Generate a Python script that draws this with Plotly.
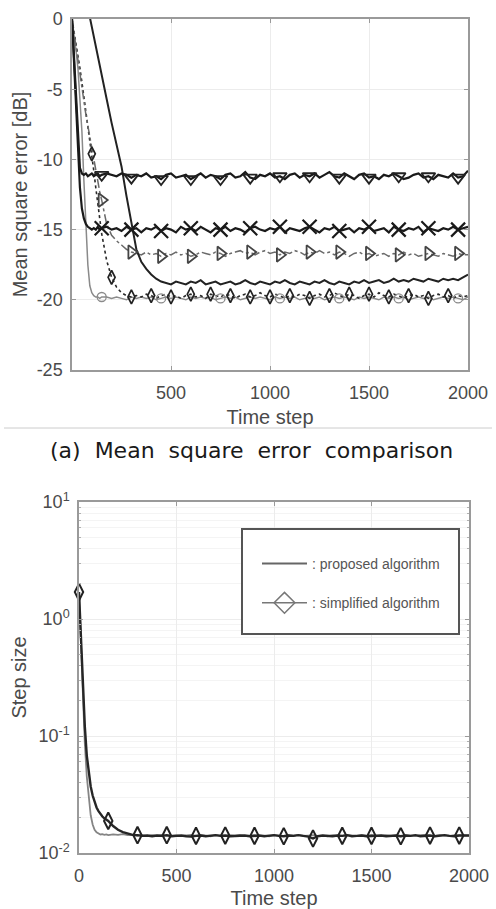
import plotly.graph_objects as go

W, H = 496, 909

# ---------------- data ----------------
# common time grid (time steps)
TIME = list(range(0, 151, 10)) + list(range(175, 2001, 25))

# (a) mean square error curves [dB]
MSE_TRI_DOWN = [0.0, -2.7, -5.4, -8.1, -10.6, -11.0, -11.1, -11.0, -11.2, -11.1, -11.0, -11.2, -11.1, -11.0, -11.2, -11.1,
    -11.0, -11.1, -11.2, -11.0, -11.1, -11.3, -11.1, -11.2, -11.0, -11.3,
    -11.2, -11.4, -11.1, -11.0, -11.3, -11.2, -11.1, -11.4, -11.2, -11.0,
    -11.3, -11.1, -11.2, -11.4, -11.1, -11.0, -11.3, -11.2, -10.9, -11.3,
    -11.4, -11.1, -11.2, -11.0, -11.3, -11.2, -11.4, -11.1, -11.0, -11.3,
    -11.1, -11.2, -11.0, -11.3, -11.1, -10.9, -11.2, -11.3, -11.0, -11.2,
    -11.4, -11.1, -11.0, -11.3, -11.2, -11.4, -11.1, -11.2, -11.0, -11.2,
    -11.4, -11.3, -11.1, -11.0, -11.3, -11.2, -11.4, -11.1, -11.2, -11.3,
    -11.0, -11.3, -11.2, -10.8]

MSE_CROSS = [0.0, -3.2, -6.5, -9.6, -12.0, -13.5, -14.2, -14.6, -14.8, -14.9, -15.0, -14.9, -15.0, -14.8, -15.0, -14.9,
    -14.8, -15.0, -14.9, -15.1, -14.8, -15.0, -14.9, -15.2, -14.9, -15.0,
    -14.8, -15.1, -14.9, -15.0, -15.2, -14.8, -15.0, -14.9, -15.1, -14.8,
    -15.0, -15.2, -14.9, -15.0, -14.8, -15.1, -14.9, -15.0, -15.2, -14.9,
    -14.8, -15.0, -15.1, -14.9, -15.0, -14.8, -15.2, -14.9, -15.0, -15.1,
    -14.9, -14.8, -15.0, -15.2, -14.9, -15.0, -14.8, -15.1, -15.0, -14.9,
    -15.2, -14.9, -15.0, -14.8, -15.1, -15.0, -14.9, -15.2, -14.8, -15.0,
    -15.1, -14.9, -15.0, -14.8, -15.2, -14.9, -15.0, -15.1, -14.9, -15.0,
    -14.8, -15.0, -14.9, -14.8]

MSE_TRI_RIGHT = [0.0, -1.0, -2.0, -3.0, -4.0, -5.0, -5.9, -6.8, -7.6, -8.4, -9.3, -10.1, -10.9, -11.6, -12.3, -12.9,
    -14.6, -15.4, -15.8, -16.1, -16.4, -16.6,
    -16.7, -16.8, -16.6, -16.8, -16.7, -16.9, -16.7, -16.8, -16.6, -16.8,
    -16.7, -16.9, -16.8, -16.6, -16.7, -16.8, -16.6, -16.7, -16.9, -16.7,
    -16.6, -16.5, -16.7, -16.6, -16.8, -16.6, -16.5, -16.7, -16.6, -16.8,
    -16.6, -16.7, -16.5, -16.6, -16.8, -16.6, -16.7, -16.5, -16.7, -16.6,
    -16.8, -16.6, -16.7, -16.9, -16.7, -16.6, -16.8, -16.7, -16.9, -16.8,
    -16.7, -16.9, -16.7, -16.8, -16.6, -16.8, -16.7, -16.9, -16.8, -16.7,
    -16.8, -16.9, -16.7, -16.8, -16.9, -16.7, -16.8, -16.8]

MSE_DELAYED = [6.3, 5.6, 4.9, 4.2, 3.5, 2.8, 2.1, 1.4, 0.7, 0.0, -0.7, -1.4, -2.1, -2.8, -3.5, -4.1,
    -5.7, -7.4, -8.9, -10.5, -12.6, -14.6, -16.4, -17.3, -17.8, -18.2, -18.5, -18.7, -18.8,
    -18.9, -18.7, -18.8, -18.9, -18.7, -18.8, -18.6, -18.9, -18.8, -18.7,
    -18.9, -18.8, -18.7, -18.9, -18.8, -18.6, -18.8, -18.9, -18.7, -18.8,
    -18.9, -18.7, -18.8, -18.6, -18.8, -18.9, -18.7, -18.8, -18.9, -18.7,
    -18.8, -18.6, -18.8, -18.9, -18.7, -18.8, -18.9, -18.7, -18.8, -18.6,
    -18.8, -18.7, -18.6, -18.8, -18.7, -18.5, -18.7, -18.6, -18.7, -18.5,
    -18.6, -18.7, -18.5, -18.6, -18.7, -18.5, -18.6, -18.5, -18.6, -18.4,
    -18.2]

MSE_DIAMOND = [0.0, -0.8, -1.6, -2.5, -3.5, -4.5, -5.5, -6.5, -7.6, -8.7, -9.6, -10.8, -12.0, -13.2, -14.3, -15.3,
    -17.2, -18.4, -19.1, -19.5, -19.7, -19.8,
    -19.7, -19.8, -19.6, -19.7, -19.9, -19.7, -19.6, -19.8, -19.7, -19.9,
    -19.7, -19.6, -19.8, -19.7, -19.9, -19.6, -19.7, -19.8, -19.6, -19.7,
    -19.9, -19.7, -19.6, -19.8, -19.7, -19.5, -19.7, -19.8, -19.6, -19.7,
    -19.9, -19.7, -19.8, -19.6, -19.7, -19.9, -19.7, -19.6, -19.8, -19.7,
    -19.5, -19.7, -19.8, -19.6, -19.7, -19.9, -19.7, -19.6, -19.8, -19.5,
    -19.7, -19.8, -19.6, -19.7, -19.9, -19.7, -19.6, -19.8, -19.7, -19.9,
    -19.7, -19.6, -19.8, -19.7, -19.9, -19.7, -19.8, -19.7]

MSE_CIRCLE = [0.0, -1.0, -2.2, -3.5, -5.5, -8.0, -11.5, -15.0, -17.5, -19.0, -19.5, -19.7, -19.8, -19.8, -19.9, -19.8,
    -19.8, -19.9, -19.8, -19.9, -20.0, -19.8, -19.9, -19.8, -19.9, -19.8,
    -20.0, -19.9, -19.8, -19.9, -19.8, -19.9, -20.0, -19.8, -19.9, -19.8,
    -19.9, -19.8, -20.0, -19.9, -19.8, -19.9, -19.8, -20.0, -19.9, -19.8,
    -19.9, -19.8, -19.9, -20.0, -19.8, -19.9, -19.8, -19.9, -19.8, -20.0,
    -19.9, -19.8, -19.9, -19.8, -20.0, -19.9, -19.8, -19.9, -19.8, -19.9,
    -20.0, -19.8, -19.9, -19.8, -19.9, -20.0, -19.8, -19.9, -19.8, -19.9,
    -19.8, -20.0, -19.9, -19.8, -19.9, -19.8, -20.0, -19.9, -19.8, -19.9,
    -19.8, -19.9, -20.0, -19.8]

MARKS_150 = [150, 300, 450, 600, 750, 900, 1050, 1200, 1350, 1500, 1650, 1800, 1950]
MARKS_100 = [100, 200, 300, 400, 500, 600, 700, 800, 900, 1000, 1100, 1200, 1300, 1400, 1500, 1600, 1700, 1800, 1900]
MARKS_CIRCLE = [150, 450, 750, 1050, 1350, 1650, 1950]

# (b) step size curves
STEP_PROPOSED = [1.7, 0.62, 0.21, 0.085, 0.045, 0.029, 0.021, 0.0175, 0.0158, 0.0150, 0.0146, 0.0144, 0.0145, 0.0143, 0.0144, 0.0142,
    0.0144, 0.0143, 0.0145, 0.0142, 0.0143, 0.0141, 0.0142, 0.0140, 0.0142, 0.0141,
    0.0143, 0.0140, 0.0141, 0.0142, 0.0140, 0.0141, 0.0143, 0.0140, 0.0142, 0.0141,
    0.0139, 0.0142, 0.0141, 0.0140, 0.0142, 0.0141, 0.0143, 0.0140, 0.0141, 0.0142,
    0.0140, 0.0141, 0.0139, 0.0142, 0.0141, 0.0140, 0.0142, 0.0141, 0.0143, 0.0140,
    0.0141, 0.0142, 0.0140, 0.0141, 0.0139, 0.0142, 0.0141, 0.0140, 0.0142, 0.0141,
    0.0140, 0.0142, 0.0141, 0.0143, 0.0140, 0.0141, 0.0142, 0.0140, 0.0141, 0.0139,
    0.0142, 0.0141, 0.0140, 0.0142, 0.0143, 0.0141, 0.0140, 0.0142, 0.0141, 0.0140,
    0.0142, 0.0141, 0.0140, 0.0141]

STEP_SIMPLIFIED = [1.7, 0.7, 0.26, 0.12, 0.068, 0.047, 0.037, 0.031, 0.027, 0.0245, 0.0228, 0.0215, 0.0205, 0.0198, 0.0192, 0.0188,
    0.0170, 0.0158, 0.0151, 0.0146, 0.0143, 0.0142, 0.0140, 0.0141, 0.0139, 0.0141,
    0.0140, 0.0142, 0.0139, 0.0140, 0.0141, 0.0139, 0.0138, 0.0140, 0.0141, 0.0139,
    0.0140, 0.0142, 0.0140, 0.0141, 0.0139, 0.0140, 0.0142, 0.0141, 0.0139, 0.0140,
    0.0141, 0.0139, 0.0140, 0.0142, 0.0140, 0.0139, 0.0141, 0.0140, 0.0142, 0.0139,
    0.0138, 0.0133, 0.0139, 0.0141, 0.0140, 0.0139, 0.0141, 0.0140, 0.0142, 0.0139,
    0.0140, 0.0141, 0.0139, 0.0140, 0.0142, 0.0141, 0.0139, 0.0140, 0.0141, 0.0139,
    0.0141, 0.0140, 0.0142, 0.0139, 0.0140, 0.0141, 0.0139, 0.0140, 0.0142, 0.0140,
    0.0139, 0.0141, 0.0140, 0.0141]

MARKS_STEP = [0, 150, 300, 450, 600, 750, 900, 1050, 1200, 1350, 1500, 1650, 1800, 1950]

MSE_YTICKS = [-25, -20, -15, -10, -5, 0]
MSE_YTEXT = ["-25", "-20", "-15", "-10", "-5", "0"]
MSE_XTICKS = [500, 1000, 1500, 2000]
STEP_XTICKS = [0, 500, 1000, 1500, 2000]
STEP_YTICKS = [0.01, 0.1, 1, 10]
STEP_YTEXT = ["10<sup>-2</sup>", "10<sup>-1</sup>", "10<sup>0</sup>", "10<sup>1</sup>"]
STEP_MINOR = [m * d for d in (0.01, 0.1, 1) for m in (2, 3, 4, 5, 6, 7, 8, 9)]

for s in (MSE_TRI_DOWN, MSE_CROSS, MSE_TRI_RIGHT, MSE_DELAYED, MSE_DIAMOND, MSE_CIRCLE,
          STEP_PROPOSED, STEP_SIMPLIFIED):
    assert len(s) == len(TIME), len(s)


def at(series, marks):
    return [series[TIME.index(t)] for t in marks]


FONT = "Liberation Sans, Arial, Helvetica, sans-serif"
TXT = "#4a4a4a"

fig = go.Figure()


def line(y, color, width, dash="solid", ax=("x", "y")):
    fig.add_trace(go.Scatter(x=TIME, y=y, mode="lines", line=dict(color=color, width=width, dash=dash),
                             showlegend=False, hoverinfo="skip", xaxis=ax[0], yaxis=ax[1]))


def marks(series, mk, symbol, size, color, lw, ax=("x", "y")):
    fig.add_trace(go.Scatter(x=mk, y=at(series, mk), mode="markers", cliponaxis=False,
                             marker=dict(symbol=symbol, size=size, color=color,
                                         line=dict(color=color, width=lw)),
                             showlegend=False, hoverinfo="skip", xaxis=ax[0], yaxis=ax[1]))


# ---------- (a) ----------
line(MSE_CIRCLE, "#8a8a8a", 1.5)
line(MSE_DIAMOND, "#2a2a2a", 1.6, "dot")
line(MSE_TRI_RIGHT, "#6a6a6a", 1.5, "dashdot")
line(MSE_DELAYED, "#222222", 2.0)
line(MSE_CROSS, "#1a1a1a", 2.2)
line(MSE_TRI_DOWN, "#1a1a1a", 2.2)
marks(MSE_CIRCLE, MARKS_CIRCLE, "circle-open", 9, "#8a8a8a", 1.3)
marks(MSE_DIAMOND, MARKS_100, "diamond-tall-open", 10, "#222222", 1.7)
marks(MSE_TRI_RIGHT, MARKS_150, "triangle-right-open", 12, "#444444", 1.8)
marks(MSE_CROSS, MARKS_150, "x-thin-open", 14, "#1a1a1a", 2.2)
marks(MSE_TRI_DOWN, MARKS_150, "triangle-down-open", 12, "#222222", 1.8)

# ---------- (b) ----------
line(STEP_PROPOSED, "#858585", 1.8, ax=("x2", "y2"))
line(STEP_SIMPLIFIED, "#262626", 2.4, ax=("x2", "y2"))
marks(STEP_SIMPLIFIED, MARKS_STEP, "diamond-tall-open", 12, "#222222", 2.0, ax=("x2", "y2"))

# legend entries
fig.add_trace(go.Scatter(x=[None], y=[None], mode="lines", name=": proposed algorithm",
                         line=dict(color="#666666", width=2), legendgroup="a",
                         xaxis="x2", yaxis="y2"))
fig.add_trace(go.Scatter(x=[None], y=[None], mode="lines+markers", name=": simplified algorithm",
                         line=dict(color="#777777", width=1.5), legendgroup="b",
                         marker=dict(symbol="diamond-open", size=16, color="#777777",
                                     line=dict(color="#777777", width=1.5)),
                         xaxis="x2", yaxis="y2"))

AX = dict(showline=True, linecolor="#9a9a9a", linewidth=1.5, mirror="ticks", ticks="inside",
          ticklen=4, tickcolor="#9a9a9a", showgrid=True, gridcolor="#ececec", gridwidth=1,
          zeroline=False, automargin=False, tickfont=dict(family=FONT, size=18, color=TXT))
TITLE_FONT = dict(family=FONT, size=20, color=TXT)

fig.update_layout(
    width=W, height=H, margin=dict(l=0, r=0, t=0, b=0, autoexpand=False),
    paper_bgcolor="white", plot_bgcolor="white",
    xaxis=dict(AX, domain=[72 / W, 468 / W], range=[0, 2000], tickmode="array", tickvals=MSE_XTICKS,
               ticklabelstandoff=6,
               title=dict(text="Time step", font=TITLE_FONT, standoff=8), anchor="y"),
    yaxis=dict(AX, domain=[1 - 370 / H, 1 - 19 / H], range=[-25, 0], tickmode="array",
               tickvals=MSE_YTICKS, ticktext=MSE_YTEXT, ticklabelstandoff=4,
               title=dict(text="Mean square error [dB]", font=TITLE_FONT, standoff=4), anchor="x"),
    xaxis2=dict(AX, domain=[79 / W, 469 / W], range=[0, 2000], tickmode="array", tickvals=STEP_XTICKS,
                ticklabelstandoff=6,
                title=dict(text="Time step", font=TITLE_FONT, standoff=6), anchor="y2"),
    yaxis2=dict(AX, type="log", domain=[1 - 853 / H, 1 - 502 / H], range=[-2, 1], tickmode="array",
                tickvals=STEP_YTICKS, ticktext=STEP_YTEXT, ticklabelstandoff=4,
                minor=dict(tickmode="array", tickvals=STEP_MINOR, showgrid=True, gridcolor="#f4f4f4",
                           ticks="inside", ticklen=2, tickcolor="#b0b0b0"),
                title=dict(text="Step size", font=TITLE_FONT, standoff=6), anchor="x2"),
    legend=dict(x=257 / W, y=1 - 548 / H, xanchor="left", yanchor="top", bgcolor="rgba(0,0,0,0)",
                borderwidth=0, font=dict(family=FONT, size=14, color="#555555"),
                tracegroupgap=18, itemwidth=45),
    shapes=[
        dict(type="line", xref="paper", yref="paper", x0=4 / W, x1=492 / W, y0=1 - 428 / H, y1=1 - 428 / H,
             line=dict(color="#cccccc", width=1)),
        dict(type="rect", xref="paper", yref="paper", x0=242 / W, x1=459 / W, y0=1 - 634 / H, y1=1 - 529 / H,
             line=dict(color="#555555", width=2), fillcolor="white", layer="above"),
    ],
    annotations=[
        dict(text="(a)\u00a0 Mean\u00a0 square\u00a0 error\u00a0 comparison", xref="paper", yref="paper",
             x=251 / W, y=1 - 450 / H, xanchor="center", yanchor="middle", showarrow=False,
             font=dict(family="DejaVu Sans, sans-serif", size=22, color="#1a1a1a")),
    ],
)

fig.write_html("out.html")
